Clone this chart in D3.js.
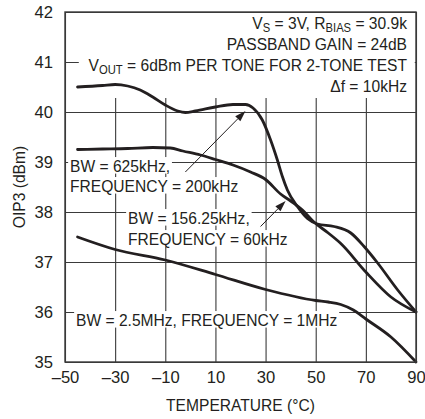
<!DOCTYPE html>
<html><head><meta charset="utf-8">
<script src="https://cdn.jsdelivr.net/npm/d3@7/dist/d3.min.js"></script>
<style>
body{margin:0;background:#fff}
svg text{font-family:"Liberation Sans Narrow","Arial Narrow","Liberation Sans",sans-serif;fill:#231f20}
</style></head>
<body><svg id="c" width="425" height="419"></svg>
<script>
const xTicks = [-50, -30, -10, 10, 30, 50, 70, 90];
const yTicks = [35, 36, 37, 38, 39, 40, 41, 42];
const xTickLabels = ["\u201350", "\u201330", "\u201310", "10", "30", "50", "70", "90"];

// top curve (peaks ~40.5)
const tempA = [-45, -35, -30, -25, -20, -15, -10, -5, -2, 2, 10, 17, 22, 25, 28.7, 32, 34.7, 36.7, 38.7, 42.7, 46.7, 50.7, 57.3, 64, 69.3, 74.7, 82.7, 90];
const oip3A = [40.5, 40.53, 40.55, 40.52, 40.44, 40.3, 40.14, 40.02, 39.99, 40.02, 40.1, 40.15, 40.15, 40.08, 39.84, 39.44, 39.04, 38.71, 38.44, 38.11, 37.87, 37.76, 37.71, 37.58, 37.31, 36.98, 36.44, 36.0];
// middle curve (~39.25)
const tempB = [-45, -35, -25, -15, -8, -3, 4, 10, 17, 24, 30, 36, 40, 44.7, 49.3, 55, 60, 70, 80, 90];
const oip3B = [39.25, 39.26, 39.27, 39.29, 39.28, 39.22, 39.14, 39.05, 38.94, 38.8, 38.65, 38.36, 38.22, 38.04, 37.8, 37.58, 37.37, 36.8, 36.3, 36.0];
// bottom curve (~37.5)
const tempC = [-45, -30, -10, 10, 30, 50, 55, 60, 65, 70, 80, 90];
const oip3C = [37.5, 37.25, 37.04, 36.75, 36.45, 36.23, 36.2, 36.15, 36.04, 35.86, 35.5, 35.0];

const svg = d3.select("#c");
const L = 65, R = 416, T = 12, B = 362;
const x = d3.scaleLinear().domain([-50, 90]).range([L, R]);
const y = d3.scaleLinear().domain([35, 42]).range([B, T]);
const AFS = 16.6, SX = 0.94;
const ink = "#231f20";

// grid
const g = svg.append("g");
g.append("g").attr("transform", `translate(0,${B})`)
  .call(d3.axisBottom(x).tickValues(xTicks).tickSize(-(B - T)).tickFormat(""))
  .call(s => { s.select(".domain").remove(); s.selectAll("line").attr("stroke", "#3a3a3a").attr("stroke-width", 1.1); });
g.append("g").attr("transform", `translate(${L},0)`)
  .call(d3.axisLeft(y).tickValues(yTicks).tickSize(-(R - L)).tickFormat(""))
  .call(s => { s.select(".domain").remove(); s.selectAll("line").attr("stroke", "#3a3a3a").attr("stroke-width", 1.1); });

// tick labels
svg.append("g").attr("transform", `translate(${L},0)`)
  .call(d3.axisLeft(y).tickValues(yTicks).tickSize(0).tickPadding(12).tickFormat(d => d))
  .call(s => { s.select(".domain").remove(); s.selectAll("text").attr("font-size", AFS).attr("font-family", null).attr("fill", ink); });
svg.append("g").attr("transform", `translate(0,${B})`)
  .call(d3.axisBottom(x).tickValues(xTicks).tickSize(0).tickPadding(9).tickFormat((d, i) => xTickLabels[i]))
  .call(s => { s.select(".domain").remove(); s.selectAll("text").attr("font-size", AFS).attr("font-family", null).attr("fill", ink); });

// white box behind top annotation block
svg.append("rect").attr("x", x(-44.5)).attr("y", T + 1).attr("width", x(89.5) - x(-44.5)).attr("height", 85).attr("fill", "#fff");

const labels = svg.append("g");
function addText(tx, ty, parts, anchor, useHalo) {
  const gg = labels.append("g").attr("transform", `translate(${tx},${ty}) scale(${SX},1)`);
  const t = gg.append("text").attr("x", 0).attr("y", 0).attr("font-size", AFS).attr("text-anchor", anchor || "start");
  let inSub = false;
  parts.forEach(p => {
    if (typeof p === "string") {
      const s = t.append("tspan").text(p);
      if (inSub) { s.attr("dy", -3); inSub = false; }
    } else {
      t.append("tspan").attr("font-size", AFS * 0.72).attr("dy", 3).text(p.sub);
      inSub = true;
    }
  });
  if (useHalo) {
    const b = t.node().getBBox(), pad = 2;
    gg.insert("rect", ":first-child").attr("x", b.x - pad).attr("y", b.y + 1).attr("width", b.width + 2 * pad).attr("height", b.height - 2).attr("fill", "#fff");
  }
  return t;
}

// top block
const rx = 407;
addText(rx, 29, ["V", { sub: "S" }, " = 3V, R", { sub: "BIAS" }, " = 30.9k"], "end");
addText(rx, 50, ["PASSBAND GAIN = 24dB"], "end");
addText(rx, 71, ["V", { sub: "OUT" }, " = 6dBm PER TONE FOR 2-TONE TEST"], "end");
addText(rx, 92, ["\u0394f = 10kHz"], "end");

// curve labels
addText(70, 171.5, ["BW = 625kHz,"], "start", true);
addText(70, 191.5, ["FREQUENCY = 200kHz"], "start", true);
addText(128, 223.5, ["BW = 156.25kHz,"], "start", true);
addText(128, 244.5, ["FREQUENCY = 60kHz"], "start", true);
addText(76, 325.5, ["BW = 2.5MHz, FREQUENCY = 1MHz"], "start", true);

// curves
const line = d3.line().x(d => x(d[0])).y(d => y(d[1])).curve(d3.curveMonotoneX);
[[tempA, oip3A], [tempB, oip3B], [tempC, oip3C]].forEach(([t, v]) => {
  svg.append("path").datum(d3.zip(t, v)).attr("d", line)
    .attr("fill", "none").attr("stroke", ink).attr("stroke-width", 2.8).attr("stroke-linejoin", "round").attr("stroke-linecap", "round");
});

// arrows: data-space endpoints (temperature, dBm)
const arrows = [
  { from: [-2, 38.8], to: [22, 40.02] },
  { from: [28, 37.71], to: [38, 38.22] }
];
arrows.forEach(a => {
  const x1 = x(a.from[0]), y1 = y(a.from[1]), x2 = x(a.to[0]), y2 = y(a.to[1]);
  const ang = Math.atan2(y2 - y1, x2 - x1);
  const hl = 11, hw = 3.6;
  const bx = x2 - hl * Math.cos(ang), by = y2 - hl * Math.sin(ang);
  svg.append("line").attr("x1", x1).attr("y1", y1).attr("x2", bx).attr("y2", by).attr("stroke", ink).attr("stroke-width", 1);
  svg.append("path").attr("d", `M${x2},${y2}L${bx - hw * Math.sin(ang)},${by + hw * Math.cos(ang)}L${bx + hw * Math.sin(ang)},${by - hw * Math.cos(ang)}Z`).attr("fill", ink);
});

// frame
svg.append("rect").attr("x", L).attr("y", T).attr("width", R - L).attr("height", B - T)
  .attr("fill", "none").attr("stroke", "#3a3a3a").attr("stroke-width", 1.4);

// axis titles
svg.append("g").attr("transform", `translate(${(L + R) / 2},411) scale(${SX},1)`)
  .append("text").attr("text-anchor", "middle").attr("font-size", AFS).text("TEMPERATURE (\u00b0C)");
svg.append("g").attr("transform", `translate(25,${(T + B) / 2}) rotate(-90) scale(${SX},1)`)
  .append("text").attr("text-anchor", "middle").attr("font-size", AFS).text("OIP3 (dBm)");
</script></body></html>
